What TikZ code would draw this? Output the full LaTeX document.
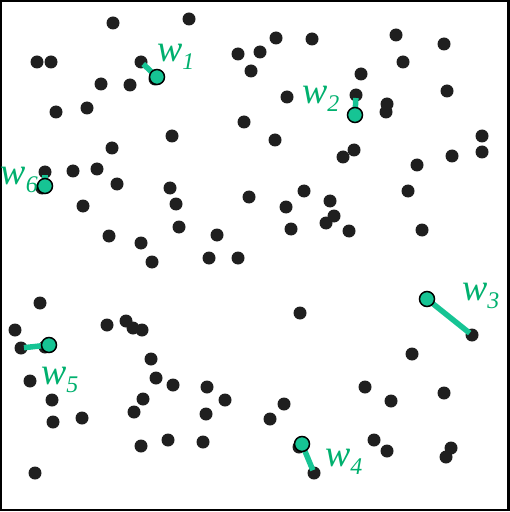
\documentclass[tikz,border=0pt]{standalone}
\usepackage{fontspec}
\setmainfont{Liberation Serif}
\usetikzlibrary{backgrounds}
\definecolor{wfill}{RGB}{22,196,148}
\definecolor{wtext}{RGB}{0,176,110}
\newcommand\wsub[1]{\raisebox{-8bp}{\fontsize{24}{24}\selectfont #1}}
\tikzset{
  pt/.style={circle,fill=black!88,inner sep=0pt,minimum size=13bp},
  wpt/.style={circle,fill=wfill,draw=black,line width=1.5bp,inner sep=0pt,minimum size=15bp},
  wline/.style={wfill,line width=5.5bp,shorten <=3bp},
  wlab/.style={text=wtext,inner sep=0pt,anchor=base west,font=\fontsize{38}{38}\selectfont\itshape}
}

\begin{document}
\begin{tikzpicture}[x=1bp,y=-1bp]
    \useasboundingbox(0,0)rectangle(510,512);
    \draw[line width=2.4bp](0.8,0.8)rectangle(508.6,510.2);
    % moved points
    \node[wpt](w1)at(157,77){};
    \node[wpt](w2)at(355,115){};
    \node[wpt](w3)at(427,299){};
    \node[wpt](w4)at(302,444){};
    \node[wpt](w5)at(49,345){};
    \node[wpt](w6)at(45,186){};
    \begin{pgfonlayer}{background}
    % points
    \foreach \x/\y [count=\i] in {113/23,189/19,37/62,51/62,238/54,260/52,251/71,101/84,130/85,56/112,
        87/108,244/122,172/136,112/148,73/171,97/169,117/184,170/188,176/204,83/206,249/197,179/227,
        217/235,109/236,141/243,209/258,238/258,152/262,276/38,312/39,396/35,444/44,403/62,361/74,
        287/97,387/104,386/112,447/91,275/140,354/150,343/157,482/136,482/152,452/156,417/165,
        408/191,304/191,286/207,330/201,334/216,326/223,291/229,349/231,422/230,40/303,15/330,
        107/325,126/321,133/328,142/330,151/359,30/381,156/378,173/385,207/387,225/400,52/400,
        143/399,134/412,206/414,53/422,82/418,168/440,203/442,141/446,35/473,300/313,412/354,
        365/387,391/401,444/393,284/404,270/419,374/440,387/451,451/448,446/457,
        155/79,42/188,45/347,299/447}
        \node[pt](p\i)at(\x,\y){};
    % start points
    \node[pt](s1)at(141,62){};
    \node[pt](s2)at(356,95){};
    \node[pt](s3)at(472,335){};
    \node[pt](s4)at(314,473){};
    \node[pt](s5)at(21,348){};
    \node[pt](s6)at(45,172){};
    \foreach \i in {1,...,6}
        \draw[wline](s\i.center)--(w\i.center);
    \end{pgfonlayer}
    % labels
    \node[wlab](l1)at(157,62){w\wsub{1}};
    \node[wlab](l2)at(302,104){w\wsub{2}};
    \node[wlab](l3)at(462,300){w\wsub{3}};
    \node[wlab](l4)at(325,466){w\wsub{4}};
    \node[wlab](l5)at(41,384){w\wsub{5}};
    \node[wlab](l6)at(0.5,185){w\wsub{6}};
\end{tikzpicture}
\end{document}
